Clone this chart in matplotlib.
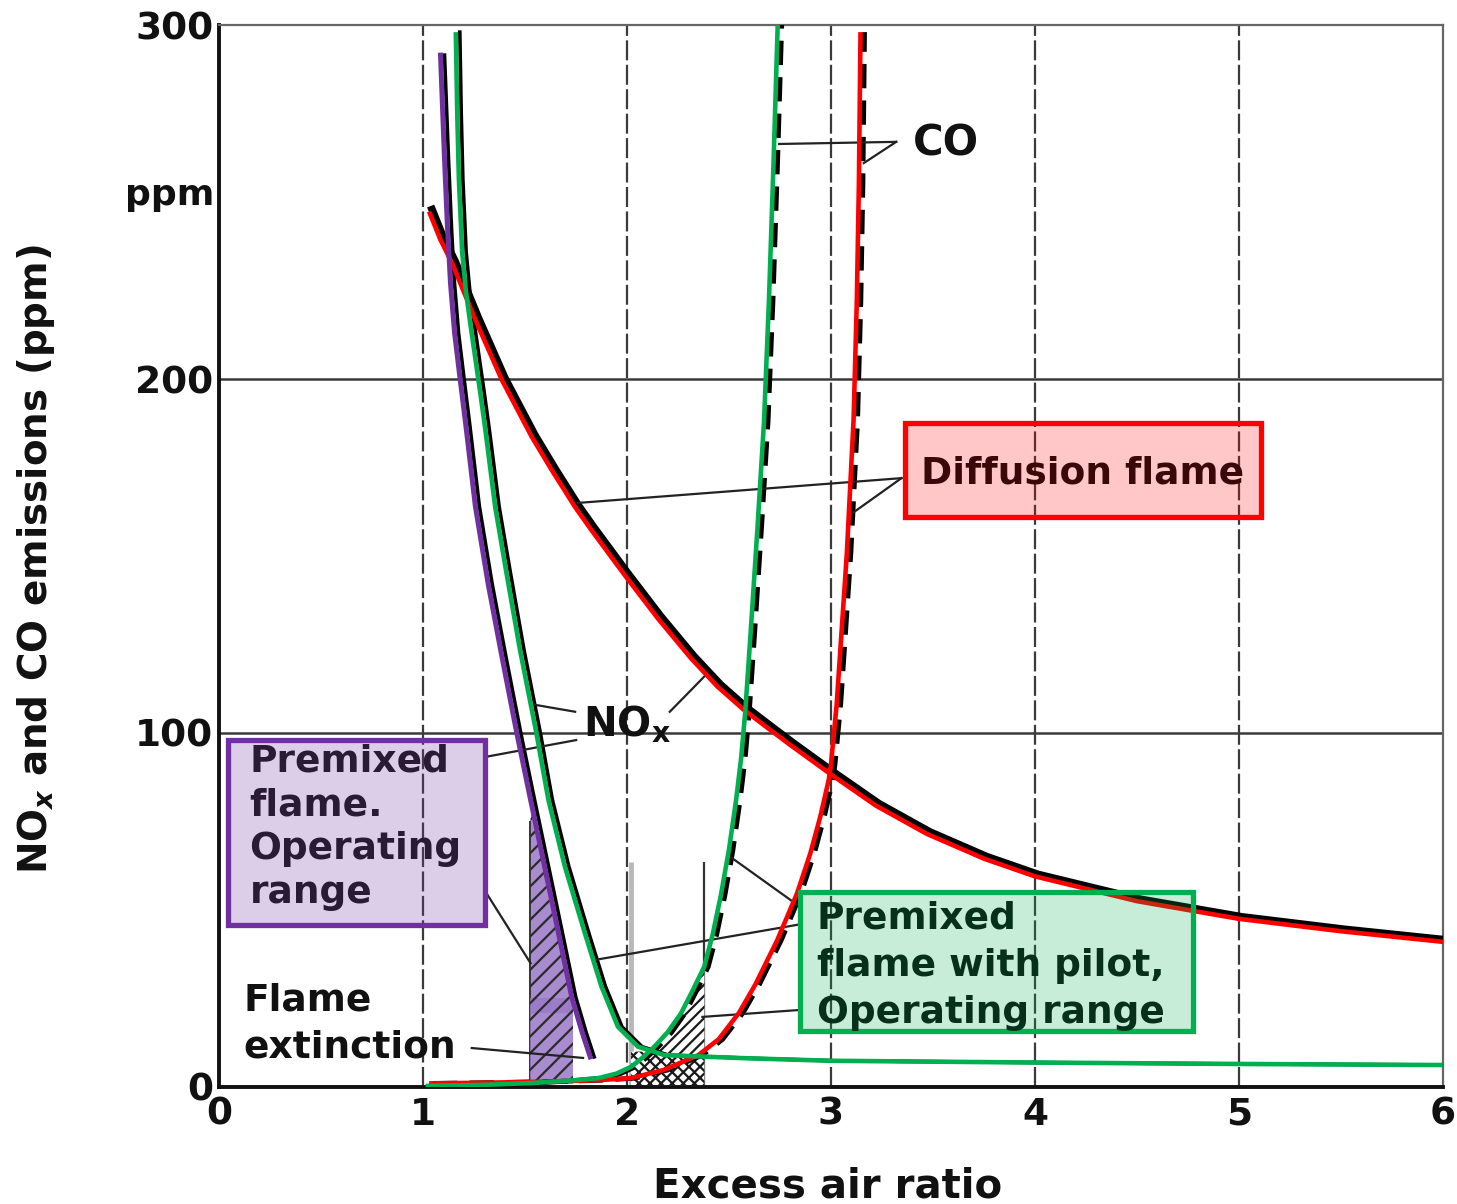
import numpy as np
import matplotlib
matplotlib.use("Agg")
import matplotlib.pyplot as plt
from matplotlib.patches import Rectangle
from matplotlib.transforms import offset_copy

plt.rcParams.update({"font.family": "DejaVu Sans", "font.weight": "bold",
                     "hatch.linewidth": 1.6})

RED, GREEN, PURPLE = "#ff0000", "#00b050", "#7030a0"

# ---- curves (excess air ratio, ppm) ----
diff_nox_x = [1.03, 1.086, 1.143, 1.2, 1.257, 1.322, 1.387, 1.46, 1.533, 1.631,
              1.745, 1.826, 1.989, 2.151, 2.314, 2.444, 2.574, 2.704, 2.801,
              3.0, 3.22, 3.47, 3.75, 4.0, 4.5, 5.0, 5.5, 6.0]
diff_nox_y = [247.3, 239.3, 232.7, 224.7, 216.7, 208.2, 199.7, 191.7, 183.7, 174.3,
              163.9, 157.3, 144.6, 132.4, 121.1, 113.1, 106.5, 100.8, 96.6,
              88.3, 79.5, 71.5, 64.5, 59.5, 52.5, 47.5, 44, 41]

diff_co_x = [1.03, 1.3, 1.6, 1.85, 2.02, 2.18, 2.35, 2.45, 2.55, 2.63, 2.737,
             2.834, 2.899, 2.948, 2.989, 3.0, 3.028, 3.045, 3.078, 3.111, 3.127,
             3.137, 3.145]
diff_co_y = [1.0, 1.2, 1.5, 1.9, 2.5, 4.8, 9, 13.5, 21, 29, 41.5,
             54.7, 66, 76.4, 86.7, 91, 108, 122.5, 150.8, 188.4, 222.3,
             255, 298]

prem_nox_x = [1.086, 1.105, 1.12, 1.135, 1.155, 1.18, 1.21, 1.257, 1.32, 1.387,
              1.46, 1.528, 1.63, 1.729, 1.78, 1.82]
prem_nox_y = [291.5, 263, 243, 227, 213, 201, 187, 164, 142, 121.6,
              100, 81, 53, 25.5, 15.5, 8.5]

pilot_nox_x = [1.161, 1.168, 1.176, 1.192, 1.21, 1.23, 1.255, 1.28, 1.306, 1.354,
               1.41, 1.476, 1.556, 1.615, 1.696, 1.794, 1.875, 1.956, 2.054,
               2.184, 2.59, 3.0, 4.0, 5.0, 6.0]
pilot_nox_y = [298, 275, 256.5, 236, 225, 216.5, 206.5, 196.5, 185.6, 163.9,
               145, 123.4, 100, 81.1, 62.2, 43.4, 28.4, 17, 11.4,
               9.0, 8.1, 7.4, 6.9, 6.5, 6.2]

pilot_co_x = [1.013, 1.3, 1.53, 1.72, 1.86, 1.95, 2.02, 2.075, 2.135, 2.2, 2.265,
              2.32, 2.379, 2.42, 2.46, 2.50, 2.535, 2.56, 2.58, 2.606, 2.64,
              2.672, 2.696, 2.718, 2.739]
pilot_co_y = [0.3, 0.6, 1.1, 1.8, 2.5, 3.8, 5.7, 8.2, 11.4, 15.5, 20.8,
              27, 34, 43, 54, 67, 81, 93, 106, 128, 158,
              188, 222, 260, 300]

prem_range = [1.527, 1.737]     # premixed flame operating range
prem_band = [21, 25]            # darker band in the shaded column
pilot_range = [2.02, 2.38]      # premixed flame with pilot operating range
range_marker_top = 63.5

x_ticks = [0, 1, 2, 3, 4, 5, 6]
y_ticks = [0, 100, 200, 300]

fig = plt.figure(figsize=(14.57, 12.04), dpi=100)
ax = fig.add_axes([0.1503, 0.0972, 0.840, 0.882])
ax.set_xlim(0, 6)
ax.set_ylim(0, 300)

# grid
for xv in x_ticks[1:-1]:
    ax.axvline(xv, color="#3a3a3a", lw=1.6, ls=(0, (9, 2)), zorder=1)
for yv in y_ticks[1:-1]:
    ax.axhline(yv, color="#3a3a3a", lw=1.8, zorder=1)
for s in ["left", "bottom"]:
    ax.spines[s].set_linewidth(2.8)
    ax.spines[s].set_color("#111")
for s in ["top", "right"]:
    ax.spines[s].set_linewidth(1.6)
    ax.spines[s].set_color("#666")

# operating range markers
ax.vlines(pilot_range[0], 0, range_marker_top, color="#b8b8b8", lw=3.5, zorder=2)
ax.vlines(pilot_range[1], 0, range_marker_top, color="#333", lw=1.6, zorder=2)
ax.vlines(prem_range[0], 0, 75, color="#333", lw=1.4, zorder=2)

# premixed flame shaded column
ax.fill_between(prem_range, 0.8, prem_band[1], color="#9a78c8", alpha=0.85,
                lw=0, zorder=2)
px = np.array(prem_nox_x)
py = np.array(prem_nox_y)
sel = (px > prem_range[0]) & (px < prem_range[1])
ux = np.concatenate([[prem_range[0]], px[sel]])
uy = np.concatenate([[np.interp(prem_range[0], px, py) - 5], py[sel] - 2])
ax.fill_between(ux, prem_band[0], uy, color="#9a78c8", alpha=0.85, lw=0, zorder=2)
ax.fill_between(prem_range, 0.8, prem_band[1], facecolor="none", hatch="//",
                edgecolor="#2a2a2a", lw=0, zorder=2.1)
ax.fill_between(ux, prem_band[1], uy, facecolor="none", hatch="//",
                edgecolor="#2a2a2a", lw=0, zorder=2.1)

# pilot operating range hatching
gx = np.linspace(*pilot_range, 40)
g_nox = np.interp(gx, pilot_nox_x, pilot_nox_y)
g_co = np.interp(gx, pilot_co_x, pilot_co_y)
ax.fill_between(gx, 0.5, np.minimum(g_nox, 10), facecolor="white", hatch="xxx",
                edgecolor="#1a1a1a", lw=0, zorder=2)
ax.fill_between(gx, g_nox, g_co, where=g_co > g_nox, facecolor="white",
                hatch="///", edgecolor="#1a1a1a", lw=0, zorder=2, interpolate=True)

# black scanned curves underneath the coloured overlays
sh = offset_copy(ax.transData, fig=fig, x=3, y=2, units="dots")
sh2 = offset_copy(ax.transData, fig=fig, x=4, y=0, units="dots")
ax.plot(diff_nox_x, diff_nox_y, color="black", lw=5.5, transform=sh, zorder=3)
ax.plot(prem_nox_x, prem_nox_y, color="black", lw=2.6, transform=sh2, zorder=3)
ax.plot(pilot_nox_x, pilot_nox_y, color="black", lw=2.6, transform=sh2, zorder=3)
ax.plot(diff_co_x, diff_co_y, color="black", lw=3.5, ls=(0, (5, 2.5)),
        transform=sh2, zorder=3)
ax.plot(pilot_co_x, pilot_co_y, color="black", lw=3.5, ls=(0, (5, 2.5)),
        transform=sh2, zorder=3)

# coloured curves
kw = dict(lw=3.3, solid_joinstyle="round", solid_capstyle="butt")
ax.plot(diff_nox_x, diff_nox_y, color=RED, zorder=4, **kw)
ax.plot(diff_co_x, diff_co_y, color=RED, zorder=4, **kw)
ax.plot(pilot_nox_x, pilot_nox_y, color=GREEN, zorder=4.5, **kw)
ax.plot(pilot_co_x, pilot_co_y, color=GREEN, zorder=4.5, **kw)
ax.plot(prem_nox_x, prem_nox_y, color=PURPLE, zorder=4.6, lw=3.6,
        solid_joinstyle="round")

# leader lines
leaders = [
    [(3.32, 267), (2.746, 266.4)], [(3.32, 267), (3.161, 261)],
    [(3.346, 172), (1.761, 165)], [(3.346, 172), (3.093, 161.6)],
    [(1.746, 106), (1.545, 108)], [(1.302, 93.2), (1.751, 98)],
    [(2.21, 106), (2.38, 116)],
    [(1.302, 55.6), (1.527, 35)],
    [(2.507, 65), (2.834, 51.5)], [(2.834, 45.8), (1.844, 35.9)],
    [(2.37, 19.8), (2.834, 21.7)],
    [(1.239, 11), (1.785, 8.2)],
]
for (x0, y0), (x1, y1) in leaders:
    ax.plot([x0, x1], [y0, y1], color="#222", lw=1.6, zorder=3.5)

# labelled boxes
boxes = [
    ((3.361, 161), 1.746, 26.6, RED, 0.22),
    ((0.044, 45.8), 1.258, 52.2, PURPLE, 0.24),
    ((2.849, 15.8), 1.927, 39.2, GREEN, 0.22),
]
for (bx, by), w, h, col, a in boxes:
    ax.add_patch(Rectangle((bx, by), w, h, facecolor=matplotlib.colors.to_rgba(col, a),
                           edgecolor=col, lw=3.8, zorder=5))

TXT = 27
ax.text(4.235, 173.2, "Diffusion flame", ha="center", va="center", fontsize=TXT,
        color="#3a0808", zorder=6)
for i, t in enumerate(["Premixed", "flame.", "Operating", "range"]):
    ax.text(0.15, 92 - 12.4 * i, t, ha="left", va="center", fontsize=TXT,
            color="#2a1a36", zorder=6)
for i, t in enumerate(["Premixed", "flame with pilot,", "Operating range"]):
    ax.text(2.93, 47.7 - 13.4 * i, t, ha="left", va="center", fontsize=TXT,
            color="#06301a", zorder=6)
ax.text(3.40, 266.5, "CO", ha="left", va="center", fontsize=30, color="#111", zorder=6)
ax.text(2.0, 102.5, "NO$_\\mathregular{x}$", ha="center", va="center",
        fontsize=29, color="#111", zorder=6)
for i, t in enumerate(["Flame", "extinction"]):
    ax.text(0.12, 24.3 - 13.2 * i, t, ha="left", va="center", fontsize=TXT,
            color="#111", zorder=6)

# axes labels and ticks
ax.set_xticks(x_ticks)
ax.set_yticks(y_ticks)
ax.set_xticklabels([str(v) for v in x_ticks], fontsize=27, color="#111")
ax.set_yticklabels([str(v) for v in y_ticks], fontsize=27, color="#111")
ax.tick_params(axis="both", length=0)
ax.tick_params(axis="x", pad=7)
ax.tick_params(axis="y", pad=4)
ax.text(-0.004, 252, "ppm", ha="right", va="center", fontsize=26, color="#111",
        transform=ax.get_yaxis_transform())
ax.set_xlabel("Excess air ratio", fontsize=29, color="#111", fontweight="bold")
ax.xaxis.set_label_coords(0.497, -0.075)
ax.set_ylabel("NO$_x$ and CO emissions (ppm)", fontsize=28, color="#111",
              fontweight="bold",
              family=["Liberation Sans Narrow", "DejaVu Sans Condensed", "DejaVu Sans"])
ax.yaxis.set_label_coords(-0.132, 0.497)

fig.savefig("out.png", dpi=100)
